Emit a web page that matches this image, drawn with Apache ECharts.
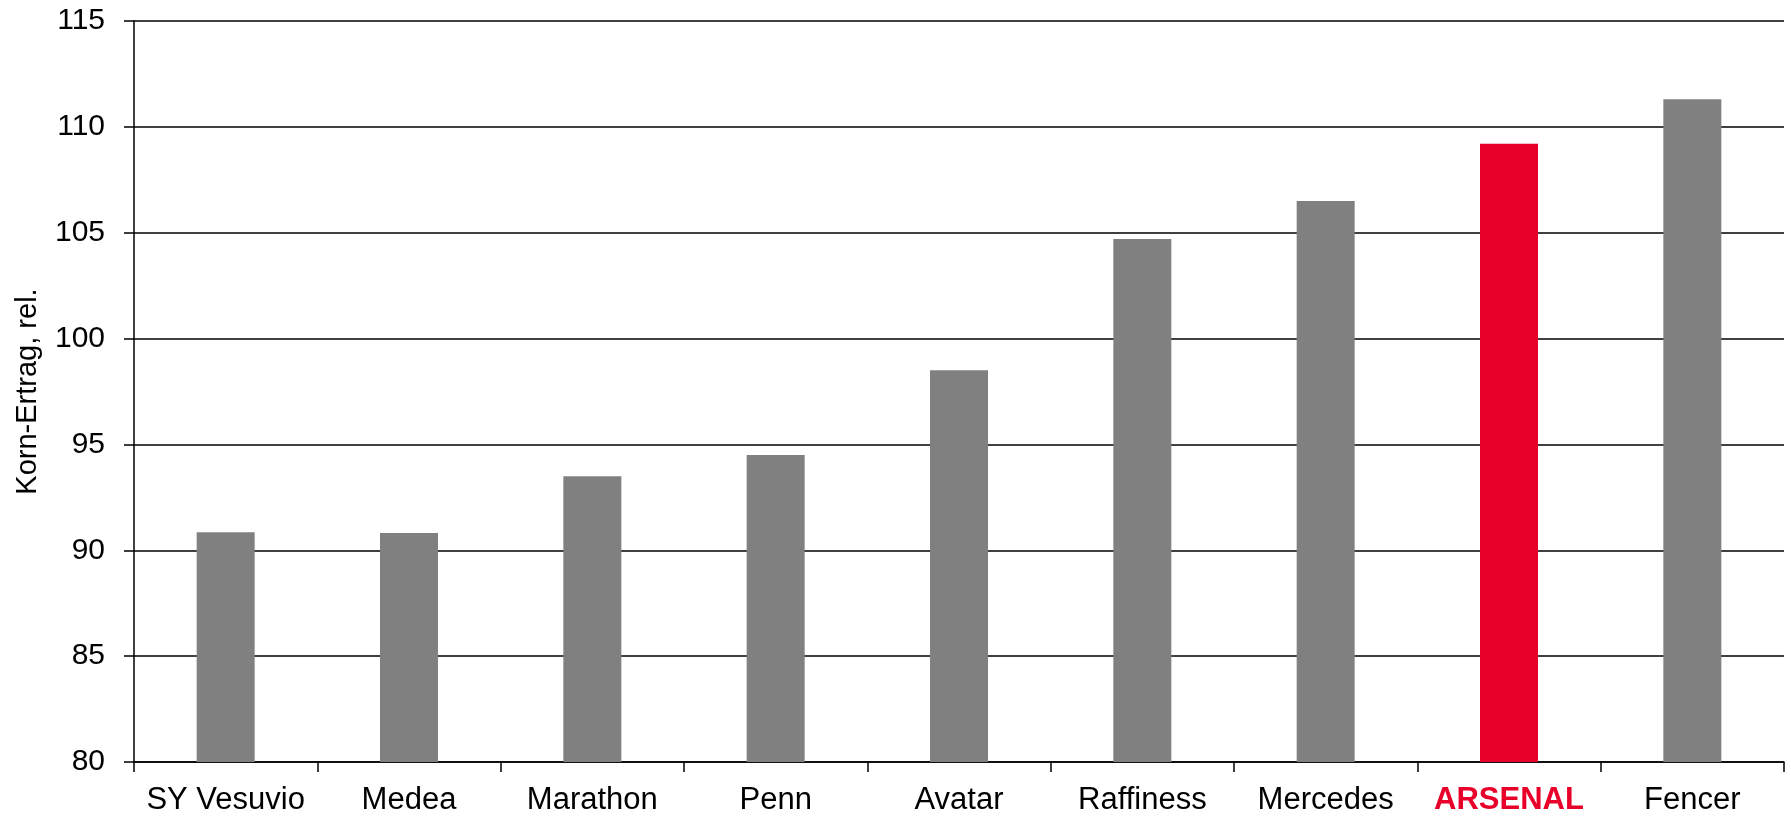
<!DOCTYPE html>
<html>
<head>
<meta charset="utf-8">
<script src="https://cdn.jsdelivr.net/npm/echarts@6/dist/echarts.min.js"></script>
<style>
html,body{margin:0;padding:0;background:#fff;}
#chart{width:1791px;height:817px;}
</style>
</head>
<body>
<div id="chart"></div>
<script>
const categories = ['SY Vesuvio','Medea','Marathon','Penn','Avatar','Raffiness','Mercedes','ARSENAL','Fencer'];
const values = [90.85, 90.82, 93.5, 94.5, 98.5, 104.7, 106.5, 109.2, 111.3];
const highlight = 'ARSENAL';
const yTicks = [80, 85, 90, 95, 100, 105, 110, 115];
const yTitle = 'Korn-Ertrag, rel.';

const GRAY = '#808080';
const RED = '#E8002A';
const FONT = '"Liberation Sans", Arial, sans-serif';

const chart = echarts.init(document.getElementById('chart'), null, {renderer: 'canvas'});
chart.setOption({
  animation: false,
  backgroundColor: '#fff',
  grid: {left: 134, right: 7, top: 21, bottom: 55, containLabel: false},
  xAxis: {
    type: 'category',
    data: categories.map(c => c === highlight
      ? {value: c, textStyle: {color: RED, fontWeight: 'bold'}}
      : c),
    axisLine: {lineStyle: {color: '#000', width: 1.5}},
    axisTick: {show: true, length: 10, lineStyle: {color: '#000', width: 1.5}},
    axisLabel: {color: '#000', fontSize: 31, fontFamily: FONT, margin: 23, interval: 0}
  },
  yAxis: {
    type: 'value',
    min: yTicks[0],
    max: yTicks[yTicks.length - 1],
    interval: 5,
    name: yTitle,
    nameLocation: 'middle',
    nameGap: 92,
    nameTextStyle: {color: '#000', fontSize: 29, fontFamily: FONT},
    axisLine: {show: true, lineStyle: {color: '#000', width: 1.5}},
    axisTick: {show: true, length: 10, lineStyle: {color: '#000', width: 1.5}},
    axisLabel: {color: '#000', fontSize: 30, fontFamily: FONT, margin: 29},
    splitLine: {show: true, lineStyle: {color: '#000', width: 1.5}}
  },
  series: [{
    type: 'bar',
    barWidth: 58,
    data: categories.map((c, i) => ({
      value: values[i],
      itemStyle: {color: c === highlight ? RED : GRAY}
    }))
  }]
});
</script>
</body>
</html>
